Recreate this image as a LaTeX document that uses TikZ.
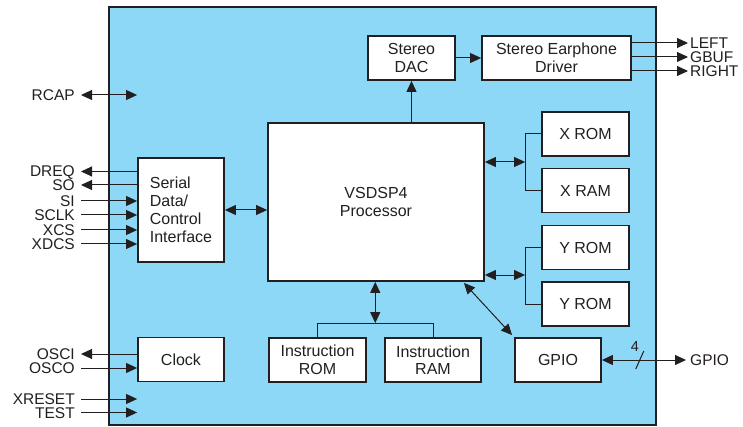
\documentclass[tikz,border=0pt]{standalone}
\usepackage{fontspec}
\setmainfont{Liberation Sans}
\usetikzlibrary{arrows.meta,calc}
\definecolor{chipblue}{HTML}{8DD8F7}
\definecolor{ink}{HTML}{231F20}
\newcommand\vsboxfont{\fontsize{16}{17.5}\selectfont}
\newcommand\vspinfont{\fontsize{15.5}{17}\selectfont}
\begin{document}
\begin{tikzpicture}[x=1pt,y=-1pt,
  >={Triangle[length=11pt,width=10pt]},
  blk/.style={draw=ink,line width=1.8pt,fill=white,inner sep=0pt,align=center,font=\vsboxfont,text=ink},
  con/.style={draw=ink,line width=1pt},
  pinlbl/.style={inner sep=0pt,text height=11pt,text depth=0pt,font=\vspinfont,text=ink}]
\useasboundingbox (0,0) rectangle (743,427);
% chip
\node[draw=ink,line width=1.8pt,fill=chipblue,minimum width=547pt,minimum height=418pt,inner sep=0pt] (chip) at (382.5,216) {};
% blocks
\node[blk,minimum width=87pt,minimum height=44pt] (dac) at (411.5,58) {Stereo\\DAC};
\node[blk,minimum width=149pt,minimum height=44pt] (drv) at (556.5,58) {Stereo Earphone\\Driver};
\node[blk,minimum width=216pt,minimum height=158pt] (proc) at (376,202) {VSDSP4\\Processor};
\node[blk,minimum width=87pt,minimum height=44pt] (xrom) at (585.5,134) {X ROM};
\node[blk,minimum width=87pt,minimum height=44pt] (xram) at (585.5,190.5) {X RAM};
\node[blk,minimum width=87pt,minimum height=44pt] (yrom) at (585.5,247.5) {Y ROM};
\node[blk,minimum width=87pt,minimum height=44pt] (yrom2) at (585.5,304) {Y ROM};
\node[blk,minimum width=86pt,minimum height=104pt,align=left,font=\fontsize{16}{18}\selectfont] (ser) at (181,210) {Serial\\Data/\\Control\\Interface};
\node[blk,minimum width=86pt,minimum height=44pt] (clk) at (181,359.5) {Clock};
\node[blk,minimum width=97pt,minimum height=44pt] (irom) at (317.5,360) {Instruction\\ROM};
\node[blk,minimum width=96pt,minimum height=44pt] (iram) at (433,360) {Instruction\\RAM};
\node[blk,minimum width=86pt,minimum height=44pt] (gpio) at (558,360) {GPIO};
% pin labels left
\node[pinlbl,anchor=east] (lRCAP) at (75,95) {RCAP};
\node[pinlbl,anchor=east] (lDREQ) at (75,171.5) {DREQ};
\node[pinlbl,anchor=east] (lSO) at (75,185) {SO};
\node[pinlbl,anchor=east] (lSI) at (75,201) {SI};
\node[pinlbl,anchor=east] (lSCLK) at (75,215) {SCLK};
\node[pinlbl,anchor=east] (lXCS) at (75,230) {XCS};
\node[pinlbl,anchor=east] (lXDCS) at (75,244) {XDCS};
\node[pinlbl,anchor=east] (lOSCI) at (75,354) {OSCI};
\node[pinlbl,anchor=east] (lOSCO) at (75,368) {OSCO};
\node[pinlbl,anchor=east] (lXRESET) at (75,399) {XRESET};
\node[pinlbl,anchor=east] (lTEST) at (75,412.5) {TEST};
% pin labels right
\node[pinlbl,anchor=west] (lLEFT) at (690,43) {LEFT};
\node[pinlbl,anchor=west] (lGBUF) at (690,57) {GBUF};
\node[pinlbl,anchor=west] (lRIGHT) at (690,71) {RIGHT};
\node[pinlbl,anchor=west] (lGPIO) at (690,360) {GPIO};
% left pins
\draw[con,<->] ([xshift=6pt]lRCAP.east) -- (lRCAP -| ser.west);
\draw[con,<-] ([xshift=6pt]lDREQ.east) -- (lDREQ -| ser.west);
\draw[con,<-] ([xshift=6pt]lSO.east) -- (lSO -| ser.west);
\draw[con,->] ([xshift=6pt]lSI.east) -- (lSI -| ser.west);
\draw[con,->] ([xshift=6pt]lSCLK.east) -- (lSCLK -| ser.west);
\draw[con,->] ([xshift=6pt]lXCS.east) -- (lXCS -| ser.west);
\draw[con,->] ([xshift=6pt]lXDCS.east) -- (lXDCS -| ser.west);
\draw[con,<-] ([xshift=6pt]lOSCI.east) -- (lOSCI -| clk.west);
\draw[con,->] ([xshift=6pt]lOSCO.east) -- (lOSCO -| clk.west);
\draw[con,->] ([xshift=6pt]lXRESET.east) -- (lXRESET -| clk.west);
\draw[con,->] ([xshift=6pt]lTEST.east) -- (lTEST -| clk.west);
% right pins
\draw[con,->] (drv.east |- lLEFT) -- ([xshift=-2pt]lLEFT.west);
\draw[con,->] (drv.east |- lGBUF) -- ([xshift=-2pt]lGBUF.west);
\draw[con,->] (drv.east |- lRIGHT) -- ([xshift=-2pt]lRIGHT.west);
\draw[con,<->] (gpio.east) -- ([xshift=-4pt]lGPIO.west);
\coordinate (slash) at ($(gpio.east)!0.43!(lGPIO.west)$);
\draw[con] ($(slash)+(-4,9)$) -- ($(slash)+(4,-9)$);
\node[font=\fontsize{14.5}{16}\selectfont,text=ink,inner sep=0pt] (four) at ($(slash)+(-5,-13)$) {4};
% internal
\draw[con,->] (dac.east) -- (drv.west);
\draw[con,->] (dac.south |- proc.north) -- (dac.south);
\draw[con,<->] (ser.east) -- (ser.east -| proc.west);
\coordinate (xb) at ($(xrom.west)+(-16,0)$);
\coordinate (yb) at ($(yrom.west)+(-16,0)$);
\draw[con] (xrom.west) -- (xb) -- (xb |- xram.west) -- (xram.west);
\draw[con] (yrom.west) -- (yb) -- (yb |- yrom2.west) -- (yrom2.west);
\draw[con,<->] (proc.east |- 0,162) -- (xb |- 0,162);
\draw[con,<->] (proc.east |- 0,275) -- (yb |- 0,275);
\coordinate (ib) at ($(irom.north)!0.5!(iram.north)+(0,-14)$);
\draw[con] (irom.north) -- (irom.north |- ib) -- (iram.north |- ib) -- (iram.north);
\draw[con,<->] (proc.south -| ib) -- (ib);
\draw[con,<->] ($(proc.south east)+(-21,1)$) -- ($(gpio.north west)+(-2,-2)$);
\end{tikzpicture}
\end{document}
